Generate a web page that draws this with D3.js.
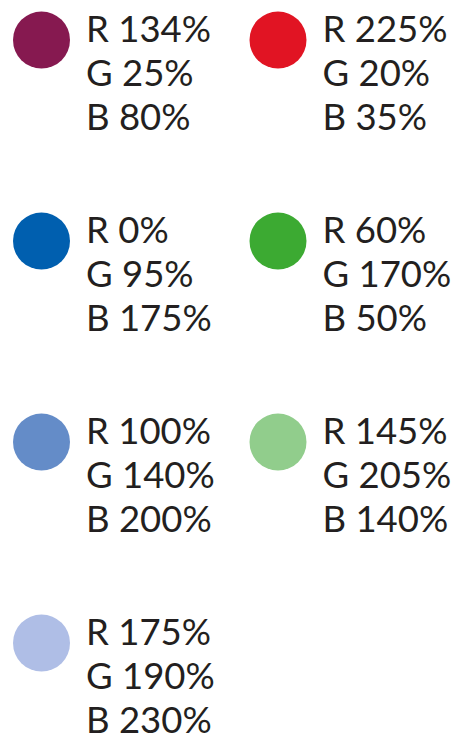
<!DOCTYPE html>
<html>
<head>
<meta charset="utf-8">
<script src="https://cdn.jsdelivr.net/npm/d3@7"></script>
<style>
  body { margin: 0; background: #fff; }
  text { font-family: Lato, "Noto Sans", sans-serif; fill: #231f20; }
</style>
</head>
<body>
<script>
const width = 458;
const height = 737;

// swatch values (percent labels as printed)
const reds = [134, 225, 0, 60, 100, 145, 175];
const greens = [25, 20, 95, 170, 140, 205, 190];
const blues = [80, 35, 175, 50, 200, 140, 230];
const channels = ["R", "G", "B"];

const data = reds.map((r, i) => ({ r: r, g: greens[i], b: blues[i], col: i % 2, row: Math.floor(i / 2) }));

const x = d3.scaleOrdinal().domain([0, 1]).range([41.5, 278]);
const y = d3.scaleLinear().domain([0, 3]).range([40, 643]);

var svg = d3
  .select("body")
  .append("svg")
  .attr("width", width)
  .attr("height", height);

var g = svg
  .selectAll("g.swatch")
  .data(data)
  .enter()
  .append("g")
  .attr("class", "swatch")
  .attr("transform", d => "translate(" + x(d.col) + "," + y(d.row) + ")");

g.append("circle")
  .attr("r", 28.5)
  .attr("fill", d => d3.rgb(d.r, d.g, d.b));

g.selectAll("text")
  .data(d => [d.r, d.g, d.b].map((v, j) => channels[j] + " " + v + "%"))
  .enter()
  .append("text")
  .attr("x", 44.5)
  .attr("y", (d, j) => 2 + j * 44)
  .attr("font-size", 36.5)
  .text(d => d);
</script>
</body>
</html>
